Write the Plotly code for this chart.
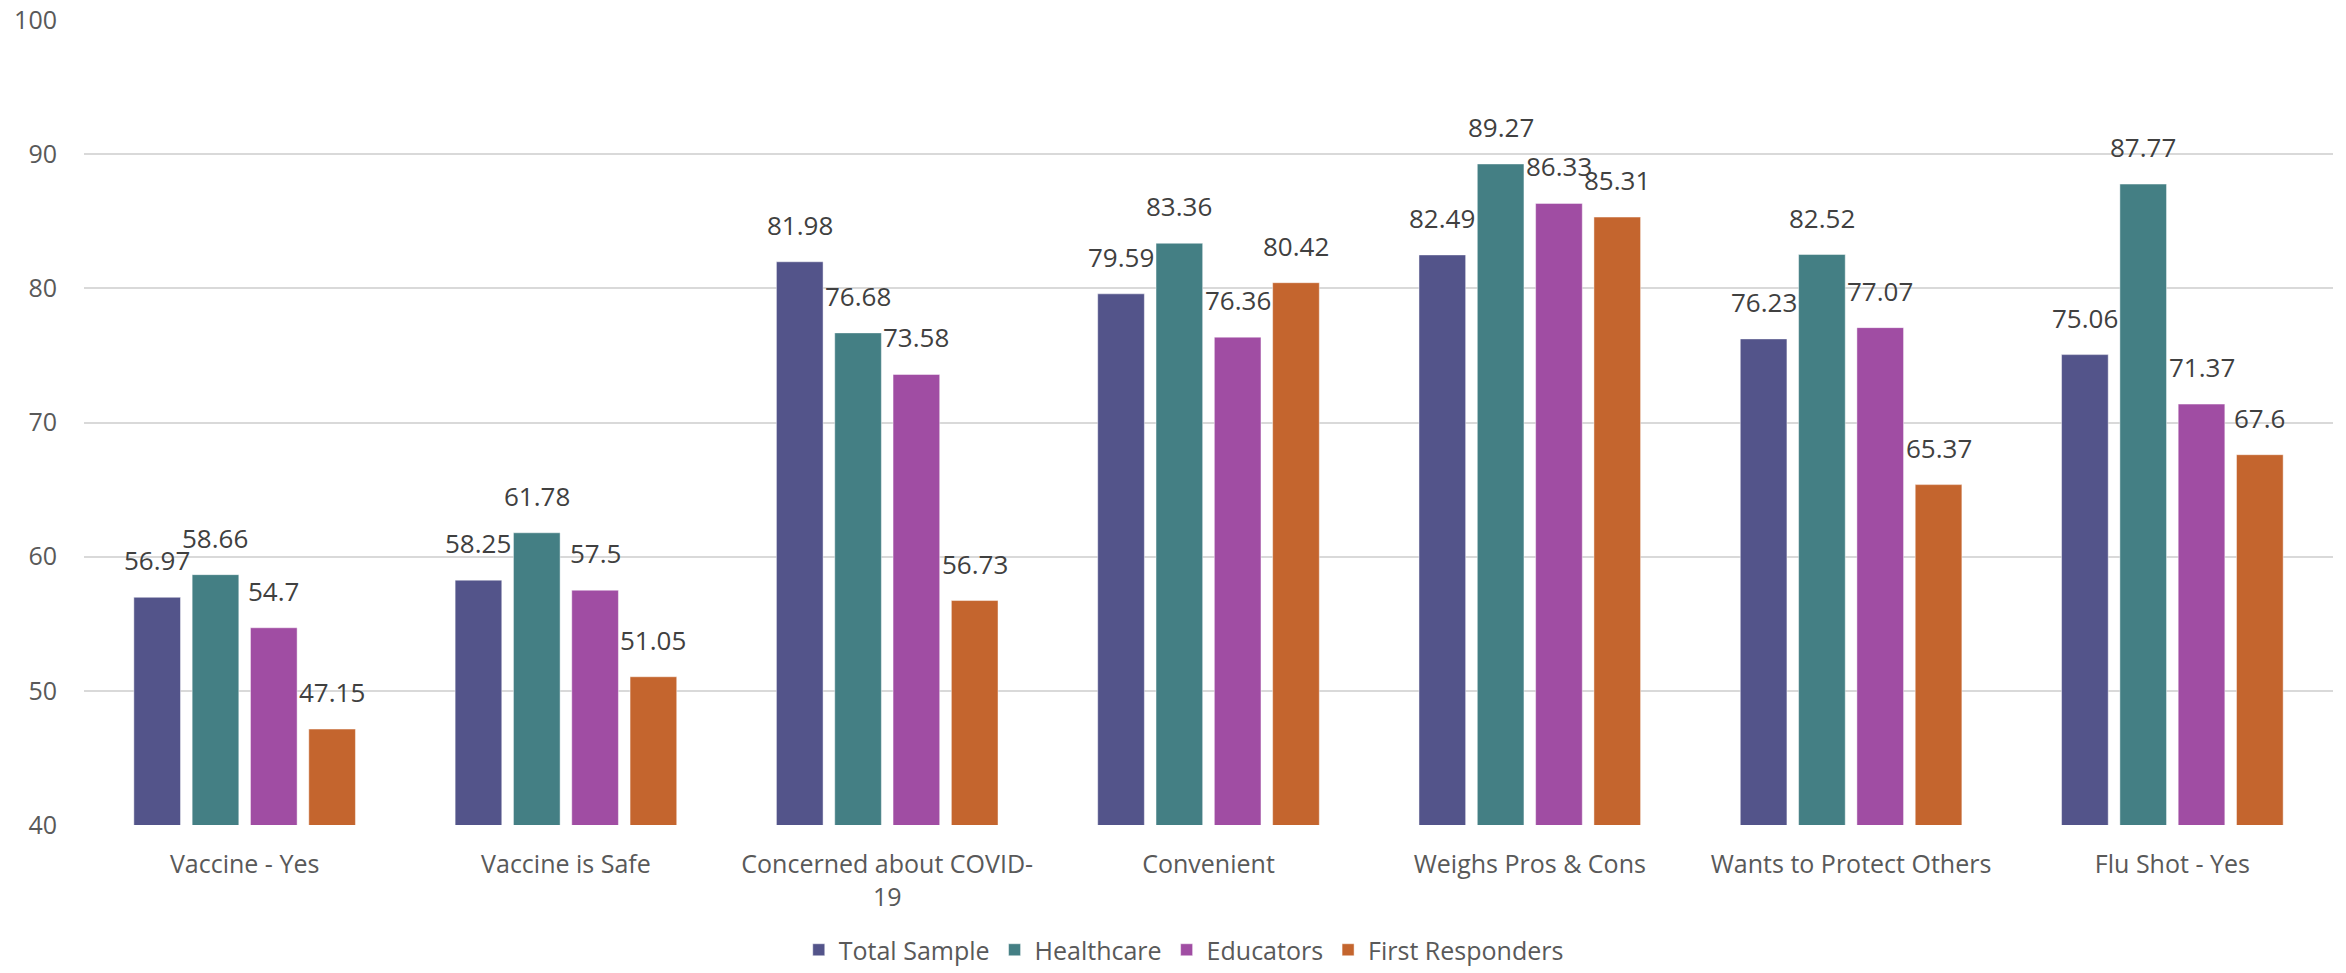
import plotly.graph_objects as go

categories = ["Vaccine - Yes", "Vaccine is Safe", "Concerned about COVID-<br>19", "Convenient",
              "Weighs Pros & Cons", "Wants to Protect Others", "Flu Shot - Yes"]
series_names = ["Total Sample", "Healthcare", "Educators", "First Responders"]
total_sample = [56.97, 58.25, 81.98, 79.59, 82.49, 76.23, 75.06]
healthcare = [58.66, 61.78, 76.68, 83.36, 89.27, 82.52, 87.77]
educators = [54.7, 57.5, 73.58, 76.36, 86.33, 77.07, 71.37]
first_responders = [47.15, 51.05, 56.73, 80.42, 85.31, 65.37, 67.6]
colors = ["#53548A", "#447F84", "#A04DA3", "#C4652E"]
y_ticks = [40, 50, 60, 70, 80, 90, 100]

W, H = 2346, 973
ML, MR, MT, MB = 84, 13, 20, 148
BARGAP, GROUPGAP = 0.274, 0.2
FONT = "Open Sans"

all_series = [total_sample, healthcare, educators, first_responders]

fig = go.Figure()
for name, vals, col in zip(series_names, all_series, colors):
    fig.add_trace(go.Bar(
        x=categories, y=vals, name=name,
        marker=dict(color=col, line=dict(color="rgba(255,255,255,0.45)", width=1)),
    ))

# data labels positioned via annotations on the category axis
plot_w = W - ML - MR
cat_w = plot_w / len(categories)
slot = cat_w * (1 - BARGAP) / len(series_names)
annotations = []
for i, vals in enumerate(all_series):
    for c, v in zip(categories, vals):
        annotations.append(dict(
            x=c, y=v, xref="x", yref="y", text=f"{v:g}", showarrow=False,
            xshift=(i - 1.5) * slot, yshift=17, yanchor="bottom",
            font=dict(family=FONT, size=26, color="#404040"),
        ))

fig.update_layout(
    width=W, height=H,
    margin=dict(l=ML, r=MR, t=MT, b=MB, pad=0, autoexpand=False),
    paper_bgcolor="white", plot_bgcolor="white",
    barmode="group", bargap=BARGAP, bargroupgap=GROUPGAP,
    font=dict(family=FONT, size=25, color="#595959"),
    annotations=annotations,
    showlegend=True,
    legend=dict(orientation="h", x=0.489, xanchor="center", y=0.0, yanchor="bottom",
                yref="container", font=dict(family=FONT, size=25, color="#595959"),
                traceorder="normal"),
    yaxis=dict(range=[40, 100], tickvals=y_ticks, showgrid=True, gridcolor="#D9D9D9",
               gridwidth=1.5, zeroline=False, showline=False, ticks="", automargin=False,
               ticklabelstandoff=26, tickfont=dict(family=FONT, size=25, color="#595959")),
    xaxis=dict(showline=False, ticks="", ticklabelstandoff=22, automargin=False,
               tickfont=dict(family=FONT, size=25, color="#595959")),
)

fig.write_html("out.html")
